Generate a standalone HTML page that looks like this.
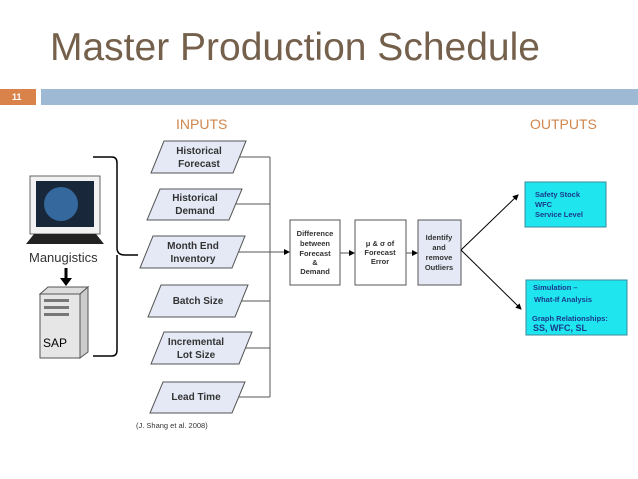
<!DOCTYPE html>
<html><head><style>
body{margin:0;width:638px;height:479px;background:#fff;overflow:hidden;position:relative;font-family:"Liberation Sans",sans-serif}
.a{position:absolute}
</style></head><body>
<div class="a" style="left:50px;top:26px;font-size:39px;color:#75604c;white-space:nowrap">Master Production Schedule</div>
<div class="a" style="left:0;top:89px;width:36px;height:16px;background:#d9834a;color:#fff;font-size:9px;font-weight:bold;line-height:16px;text-indent:12px">11</div>
<div class="a" style="left:41px;top:89px;width:597px;height:16px;background:#9db9d3"></div>
<div class="a" style="left:176px;top:116px;font-size:14px;color:#d0864e">INPUTS</div>
<div class="a" style="left:530px;top:116px;font-size:14px;color:#d0864e">OUTPUTS</div>
<svg class="a" style="left:0;top:0" width="638" height="479" font-family="Liberation Sans,sans-serif" font-weight="bold">
<defs><marker id="m" markerWidth="6" markerHeight="6" refX="5" refY="3" orient="auto"><path d="M0,0L6,3L0,6z" fill="#000"/></marker></defs>
<g fill="#e4e9f5" stroke="#555" stroke-width="1">
<polygon points="164,141 246,141 233,173 151,173"/>
<polygon points="160,189 242,189 229,220 147,220"/>
<polygon points="153,236 245,236 232,268 140,268"/>
<polygon points="161,285 248,285 235,317 148,317"/>
<polygon points="164,332 252,332 239,364 151,364"/>
<polygon points="163,382 245,382 232,413 150,413"/>
</g>
<g font-size="10" fill="#333" text-anchor="middle">
<text x="199" y="154">Historical</text><text x="199" y="167">Forecast</text>
<text x="195" y="201">Historical</text><text x="195" y="214">Demand</text>
<text x="193" y="249">Month End</text><text x="193" y="262">Inventory</text>
<text x="198" y="304">Batch Size</text>
<text x="196" y="345">Incremental</text><text x="196" y="358">Lot Size</text>
<text x="196" y="400">Lead Time</text>
</g>
<g stroke="#555" fill="none">
<path d="M240,157H270M236,204H270M238,252H270M242,301H270M246,348H270M239,397H270M270,157V397"/>
<path d="M270,252H289" marker-end="url(#m)"/>
<path d="M340,253H354" marker-end="url(#m)"/>
<path d="M406,253H417" marker-end="url(#m)"/>
<rect x="290" y="220" width="50" height="65" fill="#fff"/>
<rect x="355" y="220" width="51" height="65" fill="#fff"/>
<rect x="418" y="220" width="43" height="65" fill="#e4e9f5"/>
</g>
<g stroke="#000" fill="none">
<path d="M461,250L518,195" marker-end="url(#m)"/>
<path d="M461,250L521,309" marker-end="url(#m)"/>
</g>
<g font-size="7.5" fill="#333" text-anchor="middle">
<text x="315" y="236">Difference</text><text x="315" y="246">between</text><text x="315" y="256">Forecast</text><text x="315" y="265">&amp;</text><text x="315" y="274">Demand</text>
<text x="380" y="246">μ &amp; σ of</text><text x="380" y="255">Forecast</text><text x="380" y="264">Error</text>
<text x="439" y="240">Identify</text><text x="439" y="250">and</text><text x="439" y="260">remove</text><text x="439" y="270">Outliers</text>
</g>
<rect x="525" y="182" width="81" height="45" fill="#1fe6ee" stroke="#3a8a9a"/>
<rect x="526" y="280" width="101" height="55" fill="#1fe6ee" stroke="#3a8a9a"/>
<g font-size="7.5" fill="#1a3a8a">
<text x="535" y="197">Safety Stock</text><text x="535" y="207">WFC</text><text x="535" y="217">Service Level</text>
<text x="533" y="290">Simulation –</text><text x="534" y="302">What-If Analysis</text><text x="532" y="321">Graph Relationships:</text>
<text x="533" y="331" font-size="9">SS, WFC, SL</text>
</g>
<text x="136" y="428" font-size="7.5" font-weight="normal" fill="#333">(J. Shang et al. 2008)</text>
<path d="M93,157H112Q117,157 117,163V248Q117,255 125,255H138M117,255Q117,262 117,270V350Q117,356 112,356H93" stroke="#000" stroke-width="1.5" fill="none"/>
<rect x="30" y="176" width="70" height="58" fill="#f2f2f2" stroke="#666"/>
<rect x="36" y="181" width="58" height="46" fill="#111"/>
<circle cx="61" cy="204" r="17" fill="#3a6ea0"/>
<rect x="36" y="181" width="58" height="46" fill="#2a5f9a" opacity=".3"/>
<path d="M34,234H96L104,244H26Z" fill="#222"/>
<text x="29" y="262" font-size="13" font-weight="normal" fill="#333">Manugistics</text>
<path d="M66,268V280" stroke="#000" stroke-width="3"/><path d="M60,278H72L66,286Z" fill="#000"/>
<path d="M40,294L48,287H88L80,294Z" fill="#ddd" stroke="#555"/>
<path d="M80,294L88,287V352L80,358Z" fill="#ccc" stroke="#555"/>
<rect x="40" y="294" width="40" height="64" fill="#e6e6e6" stroke="#555"/>
<rect x="44" y="299" width="25" height="3" fill="#777"/><rect x="44" y="306" width="25" height="3" fill="#777"/><rect x="44" y="313" width="25" height="3" fill="#777"/>
<text x="43" y="347" font-size="12" font-weight="normal" fill="#000">SAP</text>
</svg>
</body></html>
